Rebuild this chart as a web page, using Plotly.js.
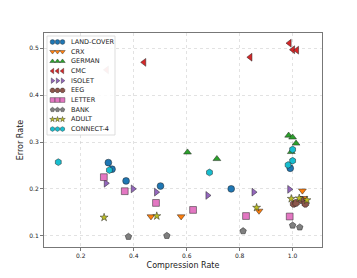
<!DOCTYPE html>
<html>
<head>
<meta charset="utf-8">
<script src="https://cdn.plot.ly/plotly-3.0.1.min.js"></script>
<style>html,body{margin:0;padding:0;background:#fff;}#chart{width:357px;height:278px;}</style>
</head>
<body>
<div id="chart"></div>
<script>
const seriesNames = ["LAND-COVER","CRX","GERMAN","CMC","ISOLET","EEG","LETTER","BANK","ADULT","CONNECT-4"];
const landcoverX = [0.304,0.318,0.371,0.501,0.768,0.991];
const landcoverY = [0.256,0.242,0.217,0.206,0.200,0.244];
const crxX = [0.465,0.579,0.873,1.037,1.042];
const crxY = [0.141,0.141,0.153,0.196,0.180];
const germanX = [0.603,0.714,0.985,1.000,1.013,0.995];
const germanY = [0.278,0.264,0.314,0.310,0.297,0.279];
const cmcX = [0.439,0.298,0.840,0.988,1.001,1.016];
const cmcY = [0.470,0.454,0.481,0.511,0.497,0.496];
const isoletX = [0.295,0.397,0.485,0.679,0.853,0.988];
const isoletY = [0.212,0.200,0.193,0.186,0.193,0.199];
const eegX = [1.004,1.013,1.034,1.048];
const eegY = [0.168,0.170,0.176,0.168];
const letterX = [0.287,0.366,0.484,0.624,0.824,0.989];
const letterY = [0.225,0.195,0.170,0.155,0.142,0.141];
const bankX = [0.380,0.525,0.813,1.000,1.027];
const bankY = [0.098,0.100,0.110,0.122,0.118];
const adultX = [0.288,0.487,0.864,0.995,1.054,1.025];
const adultY = [0.139,0.142,0.160,0.179,0.176,0.180];
const connect4X = [0.115,0.308,0.686,1.000,1.000,0.983];
const connect4Y = [0.257,0.240,0.235,0.284,0.260,0.251];

const xs = [landcoverX,crxX,germanX,cmcX,isoletX,eegX,letterX,bankX,adultX,connect4X];
const ys = [landcoverY,crxY,germanY,cmcY,isoletY,eegY,letterY,bankY,adultY,connect4Y];
const colors = ["#1f77b4","#ff7f0e","#2ca02c","#d62728","#9467bd","#8c564b","#e377c2","#7f7f7f","#bcbd22","#17becf"];
const symbols = ["circle","triangle-down","triangle-up","triangle-left","triangle-right","octagon","square","pentagon","star","hexagon"];
const sizes = [6.8,6.8,6.8,6.8,6.8,7.2,6.8,6.8,6,6.8];

const traces = seriesNames.map((n,i)=>({
  type:"scatter", mode:"markers", name:n, x:xs[i], y:ys[i], showlegend:false, hoverinfo:"skip",
  marker:{color:colors[i], symbol:symbols[i], size:sizes[i],
    opacity: n==="CMC" ? [1,0.45,1,1,1,1] : 1,
    line:{color:"#222", width:0.5}}
}));

// Custom legend (matplotlib style: three markers per entry), drawn on a hidden pixel-space overlay axis
const lgLeft = 47, lgRight = 115, lgTop = 36, lgBottom = 135;
const lgRow0 = 42, lgRowStep = 9.67;
const lgMarkX = [52.5, 57.5, 62.5];
const lgTextX = 68.5;
traces.push({type:"scatter", mode:"lines", xaxis:"x2", yaxis:"y2", showlegend:false, hoverinfo:"skip",
  x:[lgLeft,lgRight,lgRight,lgLeft,lgLeft], y:[lgTop,lgTop,lgBottom,lgBottom,lgTop],
  fill:"toself", fillcolor:"rgba(255,255,255,0.85)", line:{color:"#d4d4d4", width:0.8}});
const annotations = [];
seriesNames.forEach((n,i)=>{
  const yy = lgRow0 + i*lgRowStep;
  traces.push({type:"scatter", mode:"markers", xaxis:"x2", yaxis:"y2", showlegend:false, hoverinfo:"skip",
    x:lgMarkX, y:lgMarkX.map(()=>yy),
    marker:{color:colors[i], symbol:symbols[i], size:sizes[i]*0.7, line:{color:"#222", width:0.4}}});
  annotations.push({xref:"x2", yref:"y2", x:lgTextX, y:yy, text:n, showarrow:false, xanchor:"left", yanchor:"middle",
    font:{size:6.5, family:"DejaVu Sans", color:"#222"}});
});

const layout = {
  width:357, height:278,
  margin:{l:44, r:35, t:33, b:31},
  paper_bgcolor:"#fff", plot_bgcolor:"#fff",
  font:{family:"DejaVu Sans", size:6, color:"#222"},
  showlegend:false,
  annotations: annotations,
  xaxis:{range:[0.061,1.111], tickvals:[0.2,0.4,0.6,0.8,1.0], ticktext:["0.2","0.4","0.6","0.8","1.0"],
    showgrid:true, gridcolor:"#cfcfcf", griddash:"dot", gridwidth:0.6, zeroline:false,
    showline:true, linecolor:"#777", linewidth:1, mirror:true, ticks:"outside", ticklen:3, tickcolor:"#777",
    tickfont:{size:6}, title:{text:"Compression Rate", font:{size:8}, standoff:4}},
  yaxis:{range:[0.0759,0.5327], tickvals:[0.1,0.2,0.3,0.4,0.5], ticktext:["0.1","0.2","0.3","0.4","0.5"],
    showgrid:true, gridcolor:"#cfcfcf", griddash:"dot", gridwidth:0.6, zeroline:false,
    showline:true, linecolor:"#777", linewidth:1, mirror:true, ticks:"outside", ticklen:3, tickcolor:"#777",
    tickfont:{size:6}, title:{text:"Error Rate", font:{size:8}, standoff:4}},
  xaxis2:{overlaying:"x", range:[44,322], visible:false, fixedrange:true},
  yaxis2:{overlaying:"y", range:[247,33], visible:false, fixedrange:true}
};
Plotly.newPlot("chart", traces, layout, {displayModeBar:false, staticPlot:true});
</script>
</body>
</html>
